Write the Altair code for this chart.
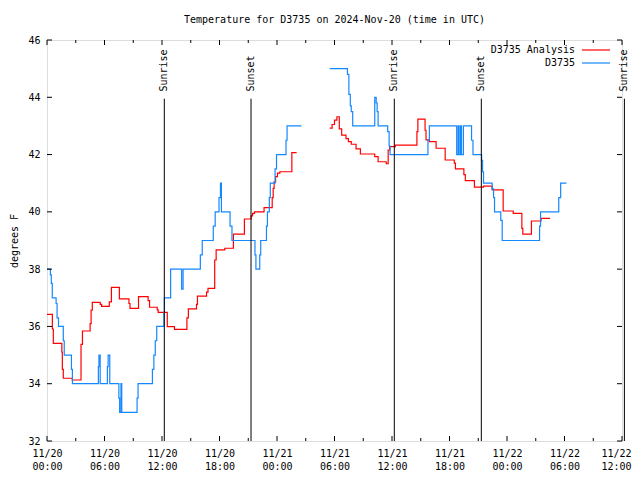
import json
import altair as alt
import pandas as pd

FONT = "DejaVu Sans Mono"

# ---- data (hours since 2024-11-20 00:00 UTC, temperature in F) ----
obs1_h = [0.0, 0.35, 0.45, 0.55, 0.95, 1.05, 1.2, 1.7, 1.8, 2.55, 2.65, 5.36, 5.42, 5.55,
          6.3, 6.38, 6.55, 7.5, 7.58, 7.72, 7.8, 9.4, 9.5, 11.0, 11.15, 11.3, 11.45, 12.2,
          12.25, 12.9, 14.05, 14.2, 16.0, 16.2, 17.35, 17.55, 17.95, 18.1, 18.2, 19.1, 19.3,
          21.7, 21.8, 22.2, 22.3, 22.9, 23.0, 23.2, 23.3, 23.8, 23.95, 24.94, 25.05, 26.55]
obs1_t = [38.0, 37.8, 37.5, 37.0, 36.8, 36.3, 36.0, 35.5, 35.0, 34.5, 34.0, 34.6, 35.0, 34.0,
          34.6, 35.0, 34.0, 33.5, 33.0, 34.0, 33.0, 33.5, 34.0, 34.5, 35.0, 35.5, 36.0, 36.5,
          37.0, 38.0, 37.3, 38.0, 38.5, 39.0, 39.5, 40.0, 40.5, 41.0, 40.0, 39.5, 39.0,
          38.5, 38.0, 38.5, 39.0, 39.5, 40.0, 40.5, 41.0, 41.5, 42.0, 42.5, 43.0, 43.0]

obs2_h = [29.5, 31.35, 31.5, 31.65, 31.75, 31.9, 34.2, 34.35, 34.45, 34.55, 35.55, 35.7,
          35.8, 39.75, 39.9, 42.75, 42.9, 43.0, 43.15, 43.25, 43.45, 44.3, 44.45, 45.35,
          45.45, 45.55, 46.45, 46.6, 46.7, 47.35, 47.5, 51.4, 51.5, 53.4, 53.6, 54.2]
obs2_t = [45.0, 44.8, 44.1, 43.7, 43.5, 43.0, 44.0, 43.8, 43.5, 43.0, 42.8, 42.3,
          42.0, 42.5, 43.0, 42.0, 43.0, 42.0, 43.0, 42.0, 43.0, 42.5, 42.0, 41.8,
          41.4, 41.0, 40.8, 40.5, 40.0, 39.7, 39.0, 39.5, 40.0, 40.5, 41.0, 41.0]

ana1_h = [0.0, 0.56, 0.66, 1.55, 1.6, 1.7, 2.64, 3.55, 3.7, 4.5, 4.6, 4.73, 5.55, 5.7,
          6.5, 6.72, 7.55, 8.55, 8.66, 9.55, 10.55, 10.7, 11.5, 11.6, 12.55, 13.3, 14.6,
          14.75, 15.6, 15.7, 16.65, 16.8, 17.5, 17.65, 18.55, 19.45, 20.6, 21.3, 21.45,
          21.65, 22.65, 23.5, 23.6, 23.7, 23.85, 24.05, 24.3, 25.55, 26.05]
ana1_t = [36.42, 35.91, 35.41, 35.1, 34.5, 34.19, 34.13, 35.37, 35.84, 36.1, 36.57, 36.84,
          36.77, 36.7, 36.86, 37.36, 36.96, 36.8, 36.63, 37.04, 36.9, 36.67, 36.58, 36.49,
          35.99, 35.9, 36.3, 36.61, 36.77, 37.06, 37.2, 37.33, 38.32, 38.67, 38.73, 39.22,
          39.75, 39.86, 39.95, 40.0, 40.15, 40.5, 40.82, 41.05, 41.23, 41.35, 41.4, 42.07,
          42.07]

ana2_h = [29.5, 29.75, 30.0, 30.25, 30.5, 30.75, 31.2, 31.45, 31.75, 32.25, 32.7, 34.2,
          34.55, 35.4, 35.6, 35.75, 36.35, 38.6, 38.7, 39.45, 39.55, 39.9, 40.6, 41.55,
          42.5, 42.62, 43.5, 43.65, 44.6, 45.55, 46.45, 47.6, 48.65, 49.55, 49.65, 50.55,
          51.55, 52.5]
ana2_t = [42.92, 43.05, 43.2, 43.32, 42.9, 42.68, 42.56, 42.45, 42.36, 42.2, 42.02, 41.93,
          41.75, 41.68, 42.16, 42.28, 42.33, 42.8, 43.24, 42.85, 42.51, 42.45, 42.22, 41.81,
          41.7, 41.5, 41.3, 41.09, 40.86, 40.9, 40.77, 40.03, 39.95, 39.42, 39.22, 39.68,
          39.77, 39.77]

series_names = ["D3735 Analysis", "D3735"]
series_colors = ["#ff0000", "#1488ff"]

event_names = ["Sunrise", "Sunset", "Sunrise", "Sunset", "Sunrise"]
event_hours = [12.24, 21.29, 36.24, 45.32, 60.25]

x_tick_hours = list(range(0, 61, 6))
x_minor_hours = list(range(3, 61, 6))
x_tick_dates = ["11/20", "11/20", "11/20", "11/20", "11/21", "11/21", "11/21", "11/21",
                "11/22", "11/22", "11/22"]
x_tick_times = ["00:00", "06:00", "12:00", "18:00", "00:00", "06:00", "12:00", "18:00",
                "00:00", "06:00", "12:00"]
y_ticks = list(range(32, 47, 2))

# ---- build tables ----
rows = []
for name, seg, hs, ts in [(series_names[0], "a1", ana1_h, ana1_t),
                          (series_names[0], "a2", ana2_h, ana2_t),
                          (series_names[1], "o1", obs1_h, obs1_t),
                          (series_names[1], "o2", obs2_h, obs2_t)]:
    for h, t in zip(hs, ts):
        rows.append({"series": name, "seg": seg, "h": h, "t": t})
df = pd.DataFrame(rows)

ev = pd.DataFrame({"name": event_names, "h": event_hours,
                   "y0": [32.0] * len(event_hours), "y1": [43.95] * len(event_hours),
                   "ty": [44.2] * len(event_hours)})

W, H = 575, 401
xs = alt.Scale(domain=[0, 60], nice=False, zero=False)
ys = alt.Scale(domain=[32, 46], nice=False, zero=False)

pairs = [[d, t] for d, t in zip(x_tick_dates, x_tick_times)]
label_expr = json.dumps(pairs) + "[round(datum.value / 6)]"

lines = alt.Chart(df).mark_line(interpolate="step-after", strokeWidth=1.2).encode(
    x=alt.X("h:Q", scale=xs, axis=alt.Axis(
        values=x_tick_hours, labelExpr=label_expr, ticks=False, domain=False, grid=False,
        title=None, labelFont=FONT, labelFontSize=10, labelPadding=7, labelLineHeight=13,
        labelAngle=0, labelBaseline="top", labelColor="black", labelFlush=False,
        labelAlign={"condition": {"test": "datum.value >= 60", "value": "right"}, "value": "center"},
        labelOffset={"condition": {"test": "datum.value >= 60", "value": 9}, "value": 0})),
    y=alt.Y("t:Q", scale=ys, axis=alt.Axis(
        values=y_ticks, ticks=False, domain=False, grid=False, title="degrees F",
        titleFont=FONT, titleFontSize=10, titleFontWeight="normal", titlePadding=8,
        labelFont=FONT, labelFontSize=10, labelPadding=7, labelColor="black",
        titleColor="black")),
    color=alt.Color("series:N", scale=alt.Scale(domain=series_names, range=series_colors),
                    legend=None),
    detail="seg:N",
)

ev_rules = alt.Chart(ev).mark_rule(color="black", strokeWidth=1, clip=False).encode(
    x=alt.X("h:Q", scale=xs), y=alt.Y("y0:Q", scale=ys), y2="y1:Q")
ev_text = alt.Chart(ev).mark_text(angle=270, align="left", baseline="middle", font=FONT,
                                  fontSize=10, color="black", clip=False).encode(
    x=alt.X("h:Q", scale=xs), y=alt.Y("ty:Q", scale=ys), text="name:N")

# inward ticks
xmaj = pd.DataFrame({"h": x_tick_hours})
xmin = pd.DataFrame({"h": x_minor_hours})
ydf = pd.DataFrame({"t": y_ticks})
tick_layers = [
    alt.Chart(xmaj).mark_rule(color="black").encode(x=alt.X("h:Q", scale=xs), y=alt.value(H), y2=alt.value(H - 5)),
    alt.Chart(xmaj).mark_rule(color="black").encode(x=alt.X("h:Q", scale=xs), y=alt.value(0), y2=alt.value(5)),
    alt.Chart(xmin).mark_rule(color="black").encode(x=alt.X("h:Q", scale=xs), y=alt.value(H), y2=alt.value(H - 3)),
    alt.Chart(xmin).mark_rule(color="black").encode(x=alt.X("h:Q", scale=xs), y=alt.value(0), y2=alt.value(3)),
    alt.Chart(ydf).mark_rule(color="black").encode(y=alt.Y("t:Q", scale=ys), x=alt.value(0), x2=alt.value(5)),
    alt.Chart(ydf).mark_rule(color="black").encode(y=alt.Y("t:Q", scale=ys), x=alt.value(W), x2=alt.value(W - 5)),
]

# legend (gnuplot style: label then sample line)
leg_layers = []
for i, (name, col) in enumerate(zip(series_names, series_colors)):
    yy = 10 + 13 * i
    one = pd.DataFrame({"n": [name]})
    leg_layers.append(alt.Chart(one).mark_text(align="right", baseline="middle", font=FONT,
                                               fontSize=10, color="black").encode(
        x=alt.value(528), y=alt.value(yy), text="n:N"))
    leg_layers.append(alt.Chart(one).mark_rule(color=col, strokeWidth=1.2).encode(
        x=alt.value(535), x2=alt.value(563), y=alt.value(yy)))

chart = alt.layer(lines, ev_rules, ev_text, *tick_layers, *leg_layers).properties(
    width=W, height=H,
    title=alt.TitleParams("Temperature for D3735 on 2024-Nov-20 (time in UTC)", font=FONT,
                          fontSize=10, fontWeight="normal", anchor="middle", offset=10,
                          color="black"),
    autosize=alt.AutoSizeParams(type="none"),
    padding={"left": 39, "top": 32, "right": 10, "bottom": 30},
).configure_view(stroke="black", strokeWidth=1).configure(background="white")

chart.save("out.html", embed_options={"renderer": "svg", "actions": False})
